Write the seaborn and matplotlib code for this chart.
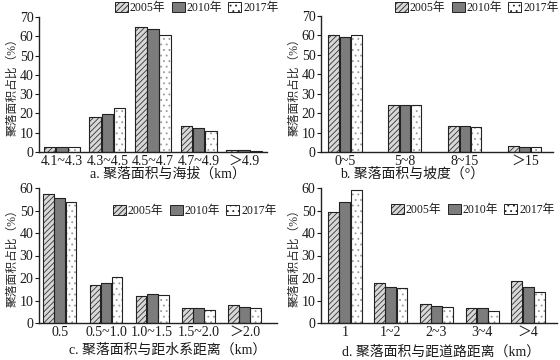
import matplotlib
matplotlib.use("Agg")
import matplotlib.pyplot as plt
import seaborn as sns
import pandas as pd

# data
years = ["2005年", "2010年", "2017年"]

alt_cats = ["4.1~4.3", "4.3~4.5", "4.5~4.7", "4.7~4.9", "＞4.9"]
alt_vals = {"2005年": [2.5, 18.0, 65.0, 13.5, 1.0],
            "2010年": [2.5, 19.5, 64.0, 12.5, 0.8],
            "2017年": [2.5, 23.0, 60.5, 11.0, 0.6]}

slope_cats = ["0~5", "5~8", "8~15", "＞15"]
slope_vals = {"2005年": [60.0, 24.0, 13.5, 3.0],
              "2010年": [59.0, 24.0, 13.5, 2.5],
              "2017年": [60.0, 24.0, 13.0, 2.5]}

water_cats = ["0.5", "0.5~1.0", "1.0~1.5", "1.5~2.0", "＞2.0"]
water_vals = {"2005年": [57.5, 17.0, 12.0, 6.5, 8.0],
              "2010年": [55.5, 18.0, 13.0, 6.5, 7.0],
              "2017年": [54.0, 20.5, 12.5, 6.0, 6.5]}

road_cats = ["1", "1~2", "2~3", "3~4", "＞4"]
road_vals = {"2005年": [49.5, 18.0, 8.5, 6.5, 18.5],
             "2010年": [54.0, 16.0, 7.5, 6.5, 16.0],
             "2017年": [59.0, 15.5, 7.0, 5.5, 14.0]}

captions = ["a. 聚落面积与海拔（km）", "b. 聚落面积与坡度（°）",
            "c. 聚落面积与距水系距离（km）", "d. 聚落面积与距道路距离（km）"]

sns.set_style("ticks")
plt.rcParams["font.family"] = ["Liberation Serif", "Noto Sans CJK SC", "DejaVu Sans"]
plt.rcParams["hatch.linewidth"] = 0.6
plt.rcParams["text.color"] = "#1a1a1a"
plt.rcParams["xtick.color"] = "#1a1a1a"
plt.rcParams["ytick.color"] = "#1a1a1a"

face = {"2005年": "#d8d8d8", "2010年": "#7c7c7c", "2017年": "#ffffff"}
hatch = {"2005年": "//////", "2010年": "", "2017年": "..."}
hcol = {"2005年": "#333333", "2010年": "#333333", "2017年": "#9a9a9a"}


def to_frame(cats, vals):
    rows = []
    for y in years:
        for c, v in zip(cats, vals[y]):
            rows.append({"cat": c, "val": v, "year": y})
    return pd.DataFrame(rows)


def panel(fig, rect, cats, vals, ymax, width, xlim, leg_anchor):
    ax = fig.add_axes(rect)
    df = to_frame(cats, vals)
    sns.barplot(data=df, x="cat", y="val", hue="year", ax=ax, width=width,
                palette=[face[y] for y in years], gap=0.04, legend=False)
    for cont, y in zip(ax.containers, years):
        for p in cont:
            p.set_hatch(hatch[y])
            p.set_edgecolor(hcol[y])
            p.set_linewidth(0.6)
    # black outline over the hatching
    for cont in ax.containers:
        for p in cont:
            ax.add_patch(plt.Rectangle(p.get_xy(), p.get_width(), p.get_height(),
                                       fill=False, edgecolor="#222222", lw=0.8))
    ax.set_ylim(0, ymax)
    ax.set_yticks(range(0, ymax + 1, 10))
    ax.set_xlim(*xlim)
    ax.set_xlabel("")
    ax.set_ylabel("聚落面积占比（%）", fontsize=8.5, labelpad=1)
    ax.tick_params(axis="y", labelsize=10, length=3, width=0.8, pad=1)
    ax.tick_params(axis="x", labelsize=10, length=0, pad=2)
    sns.despine(ax=ax)
    for s in ["left", "bottom"]:
        ax.spines[s].set_linewidth(1.0)
        ax.spines[s].set_color("#222222")
    handles = [plt.Rectangle((0, 0), 1, 1, facecolor=face[y], hatch=hatch[y],
                             edgecolor="#222222", lw=0.7) for y in years]
    ax.legend(handles, years, ncol=3, frameon=False, fontsize=8.5,
              handlelength=1.1, handleheight=0.9, handletextpad=0.2,
              columnspacing=0.5, loc="center right",
              bbox_to_anchor=leg_anchor, bbox_transform=fig.transFigure,
              borderpad=0, borderaxespad=0)
    return ax


W, H = 560, 360
fig = plt.figure(figsize=(5.6, 3.6), dpi=100)


def r(x0, x1, y0, y1):
    return [x0 / W, 1 - y1 / H, (x1 - x0) / W, (y1 - y0) / H]


panel(fig, r(39, 267, 17, 152), alt_cats, alt_vals, 70, 0.8,
      (-0.5, 4.5), (279 / W, 1 - 8 / H))
panel(fig, r(321, 553, 16, 152), slope_cats, slope_vals, 70, 0.56,
      (-0.4, 3.47), (559 / W, 1 - 8 / H))
panel(fig, r(39, 277, 188, 323), water_cats, water_vals, 60, 0.72,
      (-0.45, 4.7), (277 / W, 1 - 211 / H))
panel(fig, r(321, 557, 188, 323), road_cats, road_vals, 60, 0.74,
      (-0.52, 4.63), (555 / W, 1 - 210 / H))

cap_pos = [(168, 174), (412, 174), (168, 350), (441, 352)]
for (cx, cy), txt in zip(cap_pos, captions):
    fig.text(cx / W, 1 - cy / H, txt, ha="center", va="center", fontsize=10)

fig.savefig("out.png", dpi=100)
